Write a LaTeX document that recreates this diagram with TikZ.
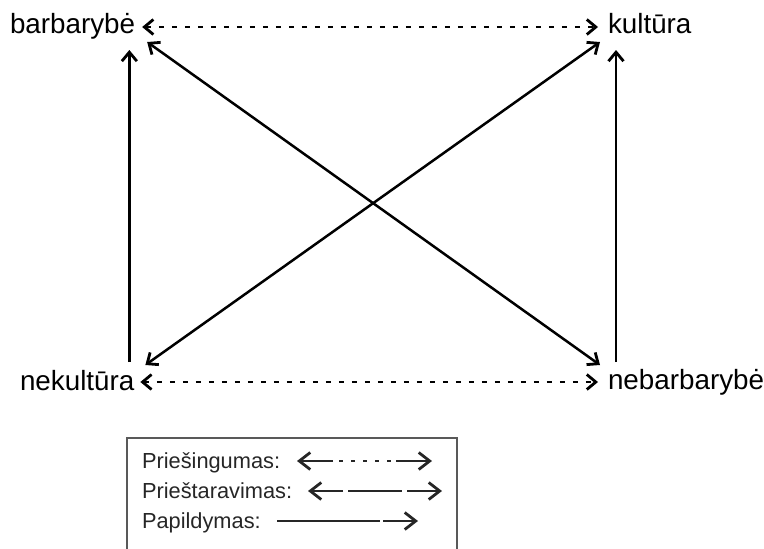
\documentclass[tikz,border=0pt]{standalone}
\usepackage{fontspec}
\setmainfont{Liberation Sans}
\usetikzlibrary{arrows.meta,calc}
\begin{document}
\begin{tikzpicture}[x=1pt,y=-1pt,
  lbl/.style={anchor=base west,inner sep=0pt,outer sep=0pt,font=\fontsize{27.8}{30}\selectfont},
  leg/.style={anchor=base west,inner sep=0pt,outer sep=0pt,font=\fontsize{21.8}{24}\selectfont,text=black!85},
  conn/.style={line width=2.5pt,>={Straight Barb[length=9pt,width=15pt,line width=2.8pt]}},
  opp/.style={conn,<->,dash pattern=on 5pt off 8pt},
  contr/.style={conn,<->},
  compl/.style={conn,->},
  legline/.style={line width=2.4pt,black!85,>={Straight Barb[length=11pt,width=17pt,line width=2.8pt]}},
  legbox/.style={line width=2pt,black!65}
]
\useasboundingbox (0,0) rectangle (764,549);
% terms
\node[lbl] (barb) at (10,33) {barbarybė};
\node[lbl] (kult) at (608,33) {kultūra};
\node[lbl] (nek) at (20,390) {nekultūra};
\node[lbl] (nebarb) at (608,389) {nebarbarybė};
% opposition (dotted)
\draw[opp] ($(barb.base east)+(7,-6)$) -- ($(kult.base west)+(-10,-6)$);
\draw[opp] ($(nek.base east)+(6,-8)$) -- ($(nebarb.base west)+(-10,-7)$);
% complement (verticals)
\coordinate (lvb) at ($(nek.base east)+(-5,-28)$);
\coordinate (lvt) at ($(barb.base east)+(-6,17)$);
\coordinate (rvb) at ($(nebarb.base west)+(8,-27)$);
\coordinate (rvt) at ($(kult.base west)+(8,17)$);
\draw[compl] (lvb) -- (lvb |- lvt);
\draw[compl] (rvb) -- (rvb |- rvt);
% contradiction (diagonals)
\draw[contr] ($(barb.base east)+(12,9)$) -- ($(nebarb.base west)+(-8,-24)$);
\draw[contr] ($(nek.base east)+(11,-25)$) -- ($(kult.base west)+(-8,9)$);
% legend
\draw[legbox] (127,549) -- (127,438) -- (457,438) -- (457,549);
\node[leg] (l1) at (142,468) {Priešingumas:};
\node[leg] (l2) at (142,498) {Prieštaravimas:};
\node[leg] (l3) at (142,528) {Papildymas:};
% legend row 1
\draw[legline,->] (333,461) -- (297,461);
\draw[legline,dash pattern=on 4pt off 8pt] (339,461) -- (392,461);
\draw[legline,->] (396,461) -- (432,461);
% legend row 2
\draw[legline,->] (343,491) -- (308,491);
\draw[legline] (348,491) -- (402,491);
\draw[legline,->] (407,491) -- (442,491);
% legend row 3
\draw[legline] (277,521) -- (380,521);
\draw[legline,->] (383,521) -- (418,521);
\end{tikzpicture}
\end{document}
